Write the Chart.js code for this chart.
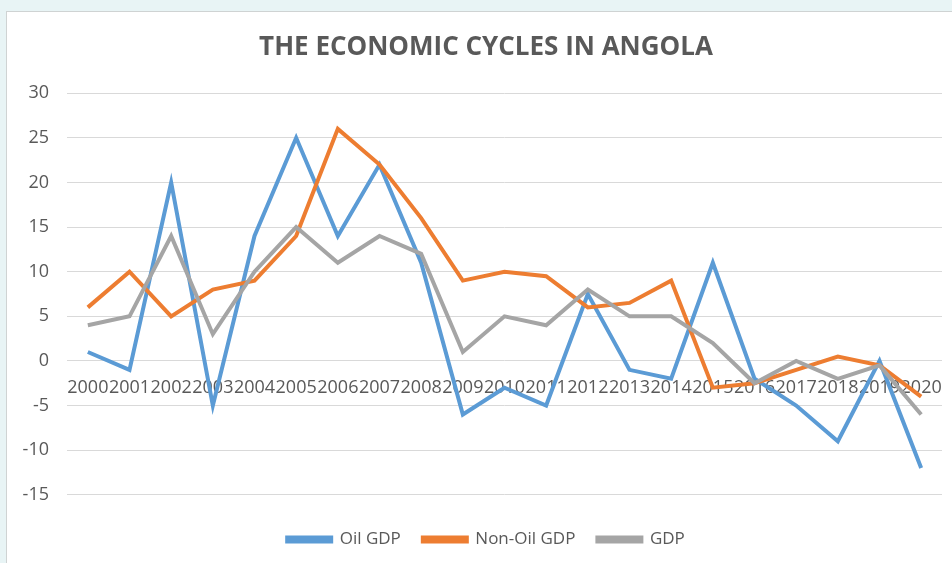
<!DOCTYPE html>
<html>
<head>
<meta charset="utf-8">
<script src="https://cdn.jsdelivr.net/npm/chart.js@4/dist/chart.umd.min.js"></script>
<style>
    html, body { margin: 0; padding: 0; width: 952px; height: 563px; overflow: hidden; background: #e8f4f5; }
    .box { position: absolute; left: 6px; top: 11px; width: 980px; height: 600px; background: #fff; border: 1px solid #cfd3d3; }
    #myChart { position: absolute; left: 0; top: 0; }
</style>
</head>
<body>
<div class="box"></div>
<canvas id="myChart" width="972" height="563"></canvas>
<script>
// Données
const years = ['2000', '2001', '2002', '2003', '2004', '2005', '2006', '2007', '2008', '2009', '2010',
    '2011', '2012', '2013', '2014', '2015', '2016', '2017', '2018', '2019', '2020'];
const oilGdp = [1, -1, 20, -5, 14, 25, 14, 22, 11, -6, -3, -5, 7.5, -1, -2, 11, -2, -5, -9, 0, -12];
const nonOilGdp = [6, 10, 5, 8, 9, 14, 26, 22, 16, 9, 10, 9.5, 6, 6.5, 9, -3, -2.5, -1, 0.5, -0.5, -4];
const gdp = [4, 5, 14, 3, 10, 15, 11, 14, 12, 1, 5, 4, 8, 5, 5, 2, -2.5, 0, -2, -0.5, -6];

const textColor = '#595959';

function makeDataset(label, data, color, order) {
    return {
        label: label,
        data: data,
        borderColor: color,
        backgroundColor: color,
        borderWidth: 4,
        pointRadius: 0,
        tension: 0,
        order: order
    };
}

// Les étiquettes de l'axe Y débordent à gauche de la zone de l'axe : on élargit la zone de clip
const unclipY = {
    id: 'unclipY',
    afterLayout(chart) {
        chart.scales.y.left = 0;
    }
};

const ctx = document.getElementById('myChart').getContext('2d');

new Chart(ctx, {
    type: 'line',
    data: {
        labels: years,
        datasets: [
            makeDataset('Oil GDP', oilGdp, '#5b9bd5', 2),
            makeDataset('Non-Oil GDP', nonOilGdp, '#ed7d31', 1),
            makeDataset('GDP', gdp, '#a5a5a5', 0)
        ]
    },
    plugins: [unclipY],
    options: {
        responsive: false,
        animation: false,
        layout: {
            padding: { left: 30, right: 30, top: 0, bottom: 5 }
        },
        plugins: {
            title: {
                display: true,
                text: 'THE ECONOMIC CYCLES IN ANGOLA',
                color: textColor,
                font: { family: 'Open Sans', size: 26, weight: 'bold' },
                padding: { top: 32, bottom: 30 }
            },
            legend: {
                position: 'bottom',
                title: {
                    display: true,
                    text: '',
                    font: { size: 1 },
                    padding: { top: 13, bottom: 0 }
                },
                labels: {
                    color: textColor,
                    font: { family: 'Open Sans', size: 17 },
                    boxWidth: 44,
                    boxHeight: 4,
                    padding: 22,
                    sort: (a, b) => a.datasetIndex - b.datasetIndex
                }
            },
            tooltip: { enabled: false }
        },
        scales: {
            x: {
                type: 'category',
                offset: true,
                position: { y: 0 },
                grid: { display: false },
                border: { display: false },
                ticks: {
                    autoSkip: false,
                    maxRotation: 0,
                    minRotation: 0,
                    padding: 8,
                    color: textColor,
                    font: { family: 'Open Sans', size: 18 }
                }
            },
            y: {
                min: -15,
                max: 30,
                grid: { color: '#d9d9d9', lineWidth: 1, drawTicks: false },
                border: { display: false },
                ticks: {
                    stepSize: 5,
                    padding: 18,
                    color: textColor,
                    font: { family: 'Open Sans', size: 18 }
                },
                afterFit: (scale) => { scale.width = 37; }
            }
        }
    }
});
</script>
</body>
</html>
